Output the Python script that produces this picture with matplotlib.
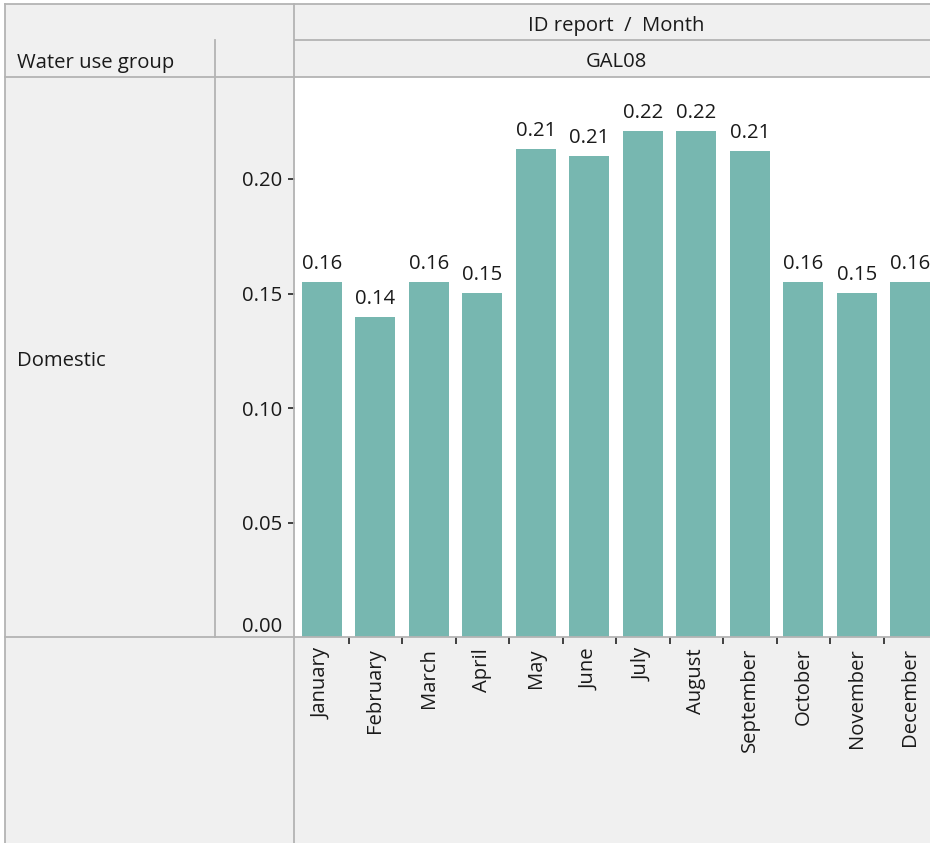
import matplotlib
matplotlib.use('Agg')
import matplotlib.pyplot as plt
from matplotlib.lines import Line2D
from matplotlib.patches import Rectangle

plt.rcParams['font.family'] = ['Open Sans', 'DejaVu Sans']

# data
months = ['January', 'February', 'March', 'April', 'May', 'June',
          'July', 'August', 'September', 'October', 'November', 'December']
usage = [0.1551, 0.1397, 0.1551, 0.1502, 0.2131, 0.2100,
         0.2210, 0.2210, 0.2122, 0.1551, 0.1502, 0.1551]
yticks = [0.00, 0.05, 0.10, 0.15, 0.20]
group = 'Domestic'
site = 'GAL08'

W, H = 930, 843
FS = 14.6
TXT = '#1a1a1a'
GRID = '#b4b4b4'
BG = '#f0f0f0'
BAR = '#77b7b0'

def fx(x):
    return x / W

def fy(y):
    return 1 - y / H

fig = plt.figure(figsize=(W / 100, H / 100), dpi=100, facecolor='white')

# grey table background
fig.add_artist(Rectangle((fx(5), 0), 1, fy(4), transform=fig.transFigure,
                         facecolor=BG, edgecolor='none', zorder=0))

# bar chart cell (runs a little past the right edge, as in the original)
left, right, top, bottom = 295, 937, 77, 637
ax = fig.add_axes([fx(left), fy(bottom), (right - left) / W, (bottom - top) / H])
ax.set_facecolor('white')
x = list(range(len(months)))
bars = ax.bar(x, usage, width=0.75, color=BAR, zorder=2)
ax.bar_label(bars, labels=['%.2f' % v for v in usage], padding=5.5,
             fontsize=FS, color=TXT)
ax.set_xlim(-0.5, len(months) - 0.5)
ax.set_ylim(0, (bottom - top) / 2290)
for s in ax.spines.values():
    s.set_visible(False)

ax.set_yticks(yticks)
ax.set_yticklabels(['%.2f' % v for v in yticks])
ax.tick_params(axis='y', length=5, width=1.2, color='#222222', pad=4.5,
               labelsize=FS, labelcolor=TXT)
ax.get_yticklabels()[0].set_verticalalignment('bottom')
ax.yaxis.get_major_ticks()[0].tick1line.set_visible(False)

ax.set_xticks(x)
ax.set_xticklabels(months, rotation=90)
ax.tick_params(axis='x', length=0, pad=8, labelsize=FS, labelcolor=TXT)
ax.set_xticks([i + 0.5 for i in x[:-1]], minor=True)
ax.tick_params(axis='x', which='minor', length=5, width=1.2, color='#222222')

# table grid lines
lines = [
    ((5, 4), (W, 4)),
    ((5, 4), (5, H)),
    ((295, 40), (W, 40)),
    ((5, 77), (W, 77)),
    ((215, 40), (215, 637)),
    ((294, 4), (294, H)),
    ((5, 637), (W, 637)),
]
for (x0, y0), (x1, y1) in lines:
    fig.add_artist(Line2D([fx(x0), fx(x1)], [fy(y0), fy(y1)],
                          transform=fig.transFigure, color=GRID, lw=1.3, zorder=5))

# header and row texts
fig.text(fx(616), fy(26), 'ID report  /  Month', ha='center', va='center',
         fontsize=FS, color=TXT)
fig.text(fx(616), fy(62), site, ha='center', va='center', fontsize=FS, color=TXT)
fig.text(fx(17), fy(63), 'Water use group', ha='left', va='center',
         fontsize=FS, color=TXT)
fig.text(fx(17), fy(361), group, ha='left', va='center', fontsize=FS, color=TXT)

fig.savefig('out.png', dpi=100, facecolor='white')
